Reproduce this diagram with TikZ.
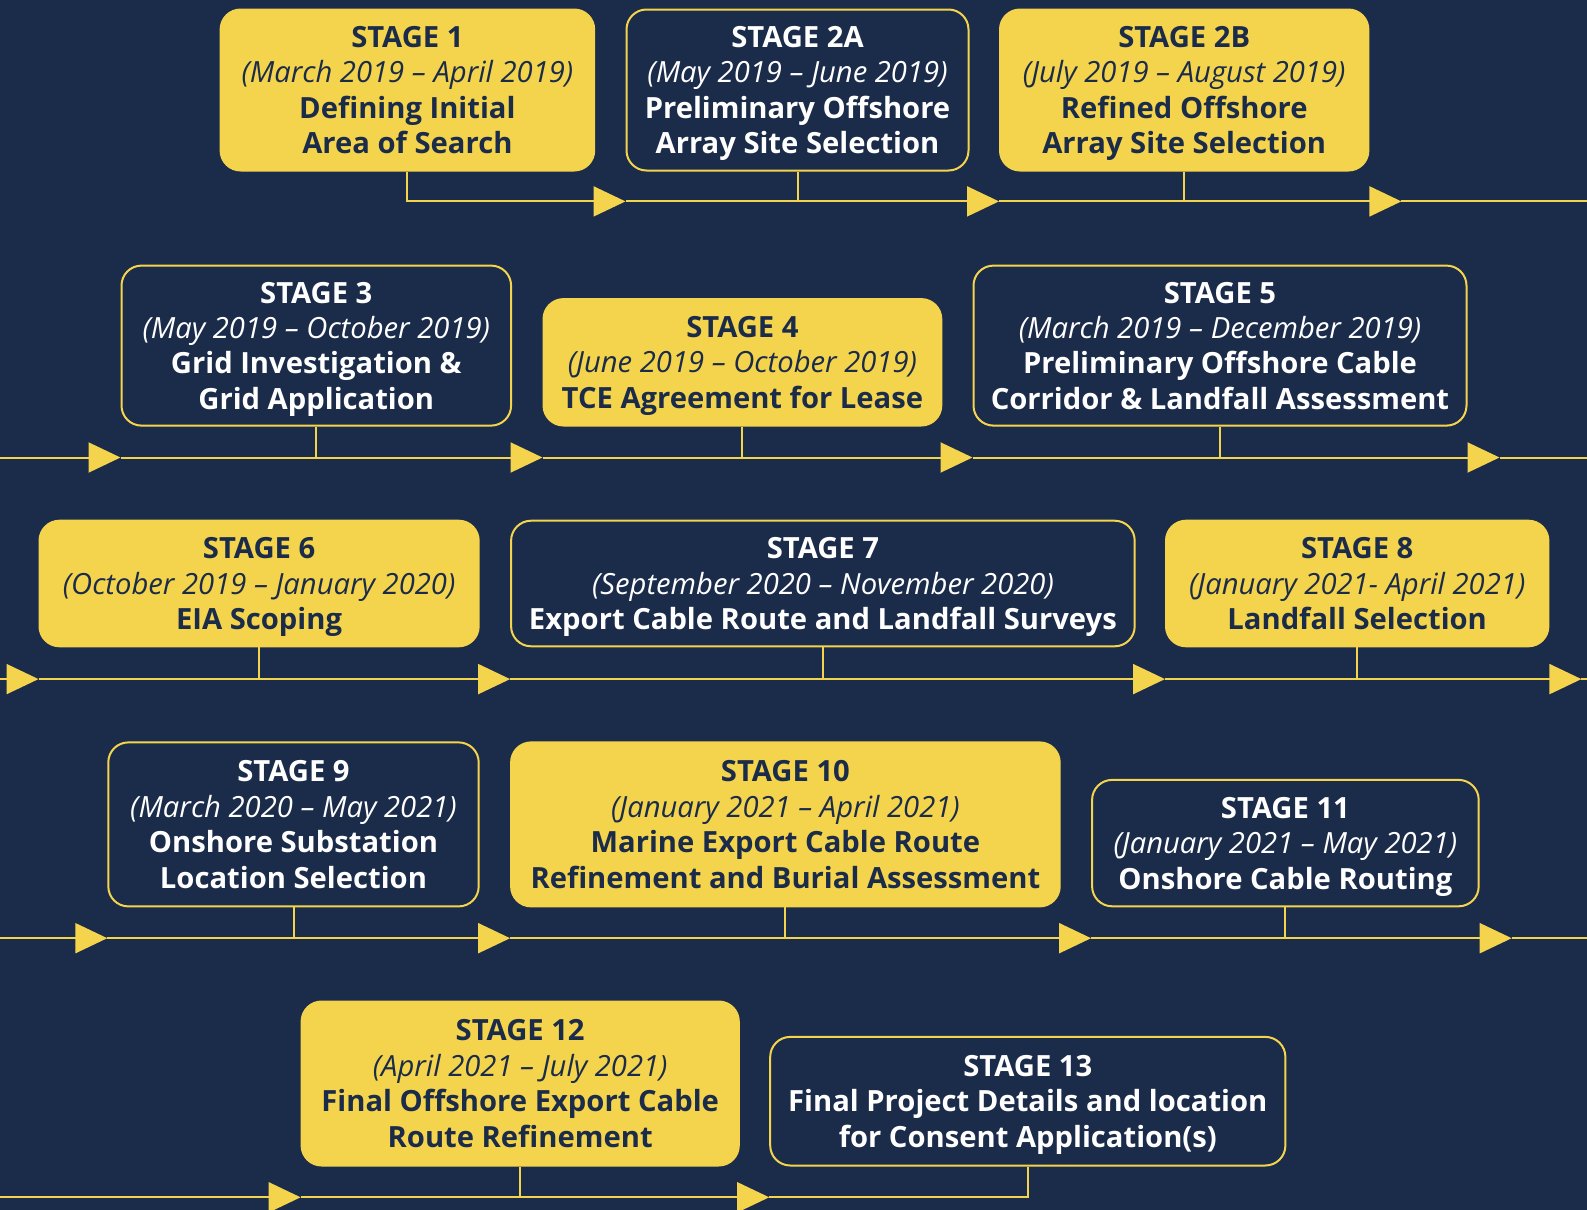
\documentclass[tikz,border=0pt]{standalone}
\usepackage{fontspec}
\setmainfont{Open Sans}
\usepackage{tikz}
\usepackage{xcolor}
\usetikzlibrary{arrows.meta}

\definecolor{navy}{RGB}{27,43,74}
\definecolor{gold}{RGB}{244,212,76}

\begin{document}
\begin{tikzpicture}[x=0.5pt,y=-0.5pt,
stagebox/.style={draw=gold,line width=1pt,rounded corners=10pt,align=center,inner sep=0pt,
  text depth=0pt,font=\fontsize{14.6}{17.7}\selectfont\bfseries},
fullbox/.style={stagebox,fill=gold,text=navy},
openbox/.style={stagebox,fill=navy,text=white},
wire/.style={draw=gold,line width=1pt},
flow/.style={wire,-{Triangle[length=16pt,width=15pt]}}]
\fill[navy] (0,0) rectangle (1587,1210);
\useasboundingbox (0,0) rectangle (1587,1210);

% row lines
\coordinate (r1) at (0,201.4);
\coordinate (r2) at (0,457.5);
\coordinate (r3) at (0,679.1);
\coordinate (r4) at (0,938.2);
\coordinate (r5) at (0,1197.3);
\coordinate (r1e) at (1587,201.4);
\coordinate (r2e) at (1587,457.5);
\coordinate (r3e) at (1587,679.1);
\coordinate (r4e) at (1587,938.2);

% stages
\node (st1) at (407.4,90) [fullbox,minimum width=186.8pt,minimum height=80.5pt]
  {STAGE 1\\\textit{\mdseries(March 2019 – April 2019)}\\Defining Initial\\Area of Search};
\node (st2a) at (797.5,90) [openbox,minimum width=171pt,minimum height=80.5pt]
  {STAGE 2A\\\textit{\mdseries(May 2019 – June 2019)}\\Preliminary Offshore\\Array Site Selection};
\node (st2b) at (1184.2,90) [fullbox,minimum width=184.2pt,minimum height=80.5pt]
  {STAGE 2B\\\textit{\mdseries(July 2019 – August 2019)}\\Refined Offshore\\Array Site Selection};

\node (st3) at (316.3,345.6) [openbox,minimum width=194.8pt,minimum height=80pt]
  {STAGE 3\\\textit{\mdseries(May 2019 – October 2019)}\\Grid Investigation \&\\Grid Application};
\node (st4) at (742.4,362.3) [fullbox,minimum width=198.9pt,minimum height=63.2pt]
  {STAGE 4\\\textit{\mdseries(June 2019 – October 2019)}\\TCE Agreement for Lease};
\node (st5) at (1220,345.6) [openbox,minimum width=246.5pt,minimum height=80pt]
  {STAGE 5\\\textit{\mdseries(March 2019 – December 2019)}\\Preliminary Offshore Cable\\Corridor \& Landfall Assessment};

\node (st6) at (259.1,583.5) [fullbox,minimum width=219.6pt,minimum height=62.8pt]
  {STAGE 6\\\textit{\mdseries(October 2019 – January 2020)}\\EIA Scoping};
\node (st7) at (822.9,583.5) [openbox,minimum width=311.8pt,minimum height=62.8pt]
  {STAGE 7\\\textit{\mdseries(September 2020 – November 2020)}\\Export Cable Route and Landfall Surveys};
\node (st8) at (1357.2,583.5) [fullbox,minimum width=191.2pt,minimum height=62.8pt]
  {STAGE 8\\\textit{\mdseries(January 2021- April 2021)}\\Landfall Selection};

\node (st9) at (293.5,824.4) [openbox,minimum width=185.2pt,minimum height=82pt]
  {STAGE 9\\\textit{\mdseries(March 2020 – May 2021)}\\Onshore Substation\\Location Selection};
\node (st10) at (785.4,824.4) [fullbox,minimum width=274.3pt,minimum height=82pt]
  {STAGE 10\\\textit{\mdseries(January 2021 – April 2021)}\\Marine Export Cable Route\\Refinement and Burial Assessment};
\node (st11) at (1285.4,843.1) [openbox,minimum width=193.3pt,minimum height=63.2pt]
  {STAGE 11\\\textit{\mdseries(January 2021 – May 2021)}\\Onshore Cable Routing};

\node (st12) at (520.2,1083.5) [fullbox,minimum width=218.6pt,minimum height=82pt]
  {STAGE 12\\\textit{\mdseries(April 2021 – July 2021)}\\Final Offshore Export Cable\\Route Refinement};
\node (st13) at (1027.8,1101.2) [openbox,minimum width=257.6pt,minimum height=64.3pt]
  {STAGE 13\\Final Project Details and location\\for Consent Application(s)};

% ends of rows
\path (st2b.east |- r1) ++(32,0) coordinate (t1);
\path (st5.east |- r2) ++(32,0) coordinate (t2);
\path (st8.east |- r3) ++(32,0) coordinate (t3);
\path (st11.east |- r4) ++(32,0) coordinate (t4);

% row 1
\draw[flow] (st1.south) |- (st2a.west |- r1);
\draw[wire] (st2a.west |- r1) -- (st2a.south |- r1) -- (st2a.south);
\draw[flow] (st2a.south |- r1) -- (st2b.west |- r1);
\draw[wire] (st2b.west |- r1) -- (st2b.south |- r1) -- (st2b.south);
\draw[flow] (st2b.south |- r1) -- (t1);
\draw[wire] (t1) -- (r1e);

% row 2
\draw[flow] (r2) -- (st3.west |- r2);
\draw[wire] (st3.west |- r2) -- (st3.south |- r2) -- (st3.south);
\draw[flow] (st3.south |- r2) -- (st4.west |- r2);
\draw[wire] (st4.west |- r2) -- (st4.south |- r2) -- (st4.south);
\draw[flow] (st4.south |- r2) -- (st5.west |- r2);
\draw[wire] (st5.west |- r2) -- (st5.south |- r2) -- (st5.south);
\draw[flow] (st5.south |- r2) -- (t2);
\draw[wire] (t2) -- (r2e);

% row 3
\draw[flow] (r3) -- (st6.west |- r3);
\draw[wire] (st6.west |- r3) -- (st6.south |- r3) -- (st6.south);
\draw[flow] (st6.south |- r3) -- (st7.west |- r3);
\draw[wire] (st7.west |- r3) -- (st7.south |- r3) -- (st7.south);
\draw[flow] (st7.south |- r3) -- (st8.west |- r3);
\draw[wire] (st8.west |- r3) -- (st8.south |- r3) -- (st8.south);
\draw[flow] (st8.south |- r3) -- (t3);
\draw[wire] (t3) -- (r3e);

% row 4
\draw[flow] (r4) -- (st9.west |- r4);
\draw[wire] (st9.west |- r4) -- (st9.south |- r4) -- (st9.south);
\draw[flow] (st9.south |- r4) -- (st10.west |- r4);
\draw[wire] (st10.west |- r4) -- (st10.south |- r4) -- (st10.south);
\draw[flow] (st10.south |- r4) -- (st11.west |- r4);
\draw[wire] (st11.west |- r4) -- (st11.south |- r4) -- (st11.south);
\draw[flow] (st11.south |- r4) -- (t4);
\draw[wire] (t4) -- (r4e);

% row 5
\draw[flow] (r5) -- (st12.west |- r5);
\draw[wire] (st12.west |- r5) -- (st12.south |- r5) -- (st12.south);
\draw[flow] (st12.south |- r5) -- (st13.west |- r5);
\draw[wire] (st13.west |- r5) -- (st13.south |- r5) -- (st13.south);
\end{tikzpicture}
\end{document}
